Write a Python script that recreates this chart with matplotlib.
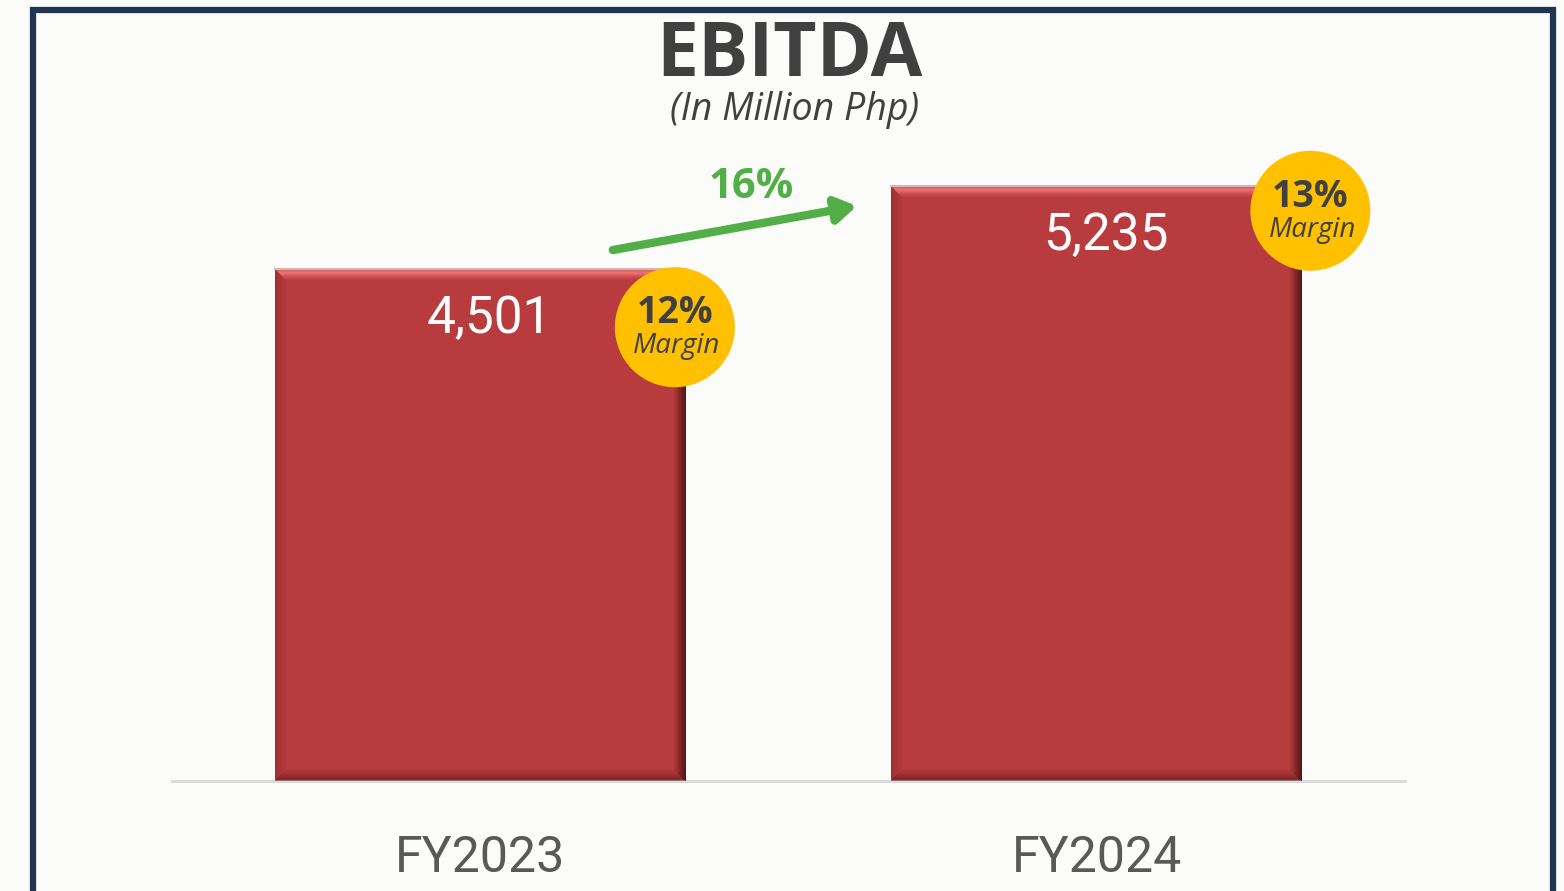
import matplotlib.pyplot as plt
from matplotlib.patches import Rectangle, Ellipse
import numpy as np

years = ["FY2023", "FY2024"]
ebitda = [4501, 5235]
labels = ["4,501", "5,235"]
margins = ["12%", "13%"]
growth = "16%"

bg = "#fbfbf9"
bar_c = "#b83c3d"
txt_c = "#404040"

fig = plt.figure(figsize=(15.64, 8.91), dpi=100, facecolor=bg)

# frame around the slide
frame = fig.add_axes([0, 0, 1, 1])
frame.set_xlim(0, 1564)
frame.set_ylim(891, 0)
frame.axis("off")
frame.plot([32.5, 32.5, 1552.5, 1552.5], [900, 9.5, 9.5, 900], color="#1f3552", lw=4.5,
           solid_joinstyle="miter")

ax = fig.add_axes([172 / 1564, 110 / 891, 1233 / 1564, 781 / 891])
ax.set_facecolor("none")
ax.set_xlim(-0.5, 1.5)
ax.set_ylim(0, 6869)
for s in ["top", "right", "left"]:
    ax.spines[s].set_visible(False)
ax.spines["bottom"].set_color("#d9d9d9")
ax.spines["bottom"].set_linewidth(2)
ax.set_yticks([])
ax.set_xticks(range(len(years)))
ax.set_xticklabels(years, fontsize=36, color="#595959", family="Roboto")
ax.tick_params(axis="x", length=0, pad=38)

x = np.arange(len(years))
w = 0.667
bars = ax.bar(x, ebitda, width=w, color=bar_c, zorder=2)

# bevel shading computed from each bar
px_x = 2.0 / 1233
px_y = 6869 / 781
for b in bars:
    x0, x1 = b.get_x(), b.get_x() + b.get_width()
    h = b.get_height()
    n = 12
    for i in range(n):
        a = 1 - i / n
        hl = [0.4, 0.6, 0.8, 0.9, 0.85, 0.7, 0.55, 0.4, 0.28, 0.17, 0.09, 0.03][i]
        ax.add_patch(Rectangle((x0 + i * px_x, h - (i + 1) * px_y), x1 - x0 - 2 * i * px_x, px_y,
                               color="#f27575", alpha=hl, lw=0, zorder=3))
        ax.add_patch(Rectangle((x1 - (i + 1) * px_x, i * px_y), px_x, h - 2 * i * px_y,
                               color="#200000", alpha=0.65 * a, lw=0, zorder=3))
        ax.add_patch(Rectangle((x0 + i * px_x, i * px_y), x1 - x0 - 2 * i * px_x, px_y,
                               color="#300000", alpha=0.4 * a, lw=0, zorder=3))
        ax.add_patch(Rectangle((x0 + i * px_x, i * px_y), px_x, h - 2 * i * px_y,
                               color="#400000", alpha=0.2 * a, lw=0, zorder=3))
    ax.plot([x0, x1], [h, h], color="#d0b8b8", lw=1.5, zorder=4)

for xi, v, lab in zip(x, ebitda, labels):
    ax.text(xi + 0.015, v - 440, lab, ha="center", va="center", color="white",
            fontsize=37, family="Roboto", zorder=5)

# margin bubbles (offset from bar corner, in px)
bub_dx = [-11, 8]
bub_dy = [-58, -25]
r = 60
for xi, v, m, dx, dy in zip(x, ebitda, margins, bub_dx, bub_dy):
    cx = xi + w / 2 + dx * px_x
    cy = v + dy * px_y
    ax.add_patch(Ellipse((cx, cy), 2 * r * px_x, 2 * r * px_y, color="#ffc000", lw=0, zorder=6))
    ax.text(cx, cy + 14 * px_y, m, ha="center", va="center", color=txt_c, fontsize=27,
            fontweight="bold", family="Open Sans", zorder=7)
    ax.text(cx + 2 * px_x, cy - 19 * px_y, "Margin", ha="center", va="center", color=txt_c,
            fontsize=20, style="italic", family="Open Sans", zorder=7)

# growth arrow
ax.annotate("", xy=(0.611, 5057), xytext=(0.215, 4670),
            arrowprops=dict(arrowstyle="-|>,head_length=1.2,head_width=0.75", color="#52ae47",
                            lw=6, shrinkA=0, shrinkB=0), zorder=8)
ax.text(0.44, 5224, growth, ha="center", va="center", color="#52ae47", fontsize=30,
        fontweight="bold", family="Open Sans")

fig.text(789 / 1564, 1 - 57 / 891, "EBITDA", ha="center", va="center", fontsize=54,
         fontweight="bold", color=txt_c, family="Open Sans")
fig.text(795 / 1564, 1 - 110 / 891, "(In Million Php)", ha="center", va="center",
         fontsize=27, style="italic", color=txt_c, family="Open Sans")

fig.savefig("out.png", dpi=100, facecolor=bg)
